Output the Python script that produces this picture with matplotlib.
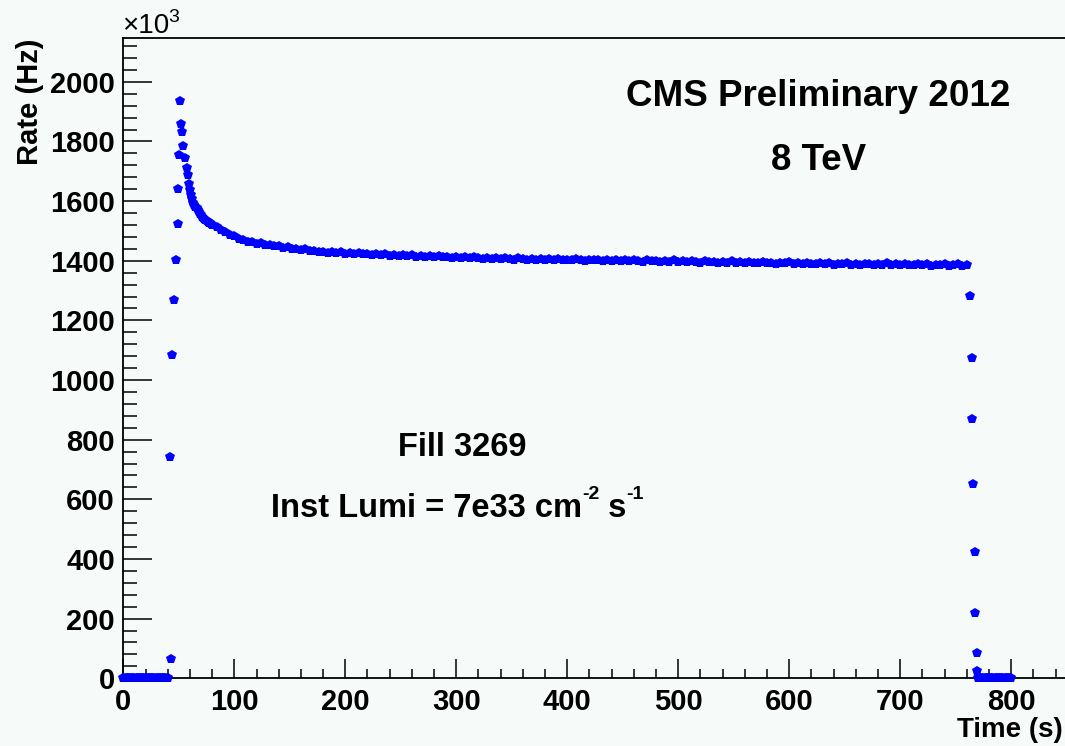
import numpy as np
import matplotlib
matplotlib.use("Agg")
import matplotlib.pyplot as plt
from matplotlib.ticker import MultipleLocator


# rates in units of 1e3 Hz, times in seconds
ZERO_START_T = np.arange(0, 41, 1)
ZERO_END_T = np.arange(770, 801, 1)

RISE_T = [42.2, 42.7, 43.8, 45.9, 47.4, 48.9, 48.9, 50.5, 51.3, 51.6, 52.5, 53.4]
RISE_RATE = [742, 63, 1085, 1267, 1403, 1522, 1641, 1755, 1937, 1859, 1833, 1784]

EARLY_T = np.arange(56, 80, 1)
EARLY_RATE = [1744, 1711, 1688, 1659, 1637, 1622, 1608, 1593, 1587, 1580,
              1576, 1569, 1563, 1558, 1553, 1547, 1542, 1539, 1535, 1532,
              1529, 1527, 1525, 1522]

FLAT_T = np.arange(80, 761, 4)
FLAT_RATE = [
    1521, 1512, 1503, 1497, 1487, 1483, 1474, 1471, 1464, 1463,
    1457, 1458, 1453, 1452, 1448, 1449, 1444, 1446, 1440, 1441,
    1436, 1438, 1432, 1434, 1429, 1431, 1427, 1429, 1425, 1428,
    1424, 1426, 1422, 1425, 1421, 1423, 1419, 1424, 1418, 1421,
    1417, 1420, 1416, 1419, 1415, 1418, 1414, 1417, 1413, 1416,
    1412, 1415, 1411, 1414, 1410, 1413, 1409, 1412, 1408, 1411,
    1409, 1406, 1410, 1407, 1409, 1405, 1408, 1406, 1404, 1408,
    1405, 1403, 1407, 1404, 1406, 1402, 1405, 1403, 1406, 1402,
    1404, 1401, 1405, 1402, 1400, 1404, 1401, 1403, 1399, 1402,
    1400, 1404, 1399, 1401, 1398, 1402, 1399, 1397, 1401, 1398,
    1400, 1396, 1399, 1397, 1401, 1396, 1398, 1395, 1399, 1396,
    1394, 1398, 1395, 1397, 1393, 1396, 1394, 1398, 1393, 1395,
    1392, 1396, 1393, 1391, 1395, 1392, 1394, 1390, 1393, 1391,
    1395, 1390, 1392, 1389, 1393, 1390, 1388, 1392, 1389, 1391,
    1387, 1390, 1388, 1392, 1387, 1389, 1386, 1390, 1388, 1386,
    1389, 1387, 1391, 1386, 1388, 1385, 1389, 1387, 1385, 1388,
    1386, 1389, 1384, 1387, 1385, 1388, 1384, 1386, 1389, 1384,
    1387,
]

FALL_T = [763.0, 764.5, 764.5, 766.0, 767.8, 767.8, 769.0, 769.0]
FALL_RATE = [1282, 1073, 871, 650, 422, 219, 86, 24]

BG = "#f6faf8"
BLUE = "#0000ff"

plt.rcParams["font.family"] = ["Liberation Sans", "DejaVu Sans"]

fig = plt.figure(figsize=(10.65, 7.46), dpi=100, facecolor=BG)
ax = fig.add_axes([0.1158, 0.0908, 1.0 - 0.1158, 0.9487 - 0.0908])
ax.set_facecolor(BG)

t = np.concatenate([ZERO_START_T, RISE_T, EARLY_T, FLAT_T, FALL_T, ZERO_END_T])
r = np.concatenate([np.zeros(len(ZERO_START_T)), RISE_RATE, EARLY_RATE,
                    FLAT_RATE, FALL_RATE, np.zeros(len(ZERO_END_T))])

ax.plot(t, r, linestyle="none", marker="p", markersize=7.2, color=BLUE,
        markeredgewidth=0, clip_on=False, zorder=5)

ax.set_xlim(0, 848.5)
ax.set_ylim(0, 2146)

ax.xaxis.set_major_locator(MultipleLocator(100))
ax.xaxis.set_minor_locator(MultipleLocator(20))
ax.yaxis.set_major_locator(MultipleLocator(200))
ax.yaxis.set_minor_locator(MultipleLocator(40))

ax.tick_params(axis="both", which="both", direction="in", colors="black",
               width=1.1, labelsize=21)
ax.tick_params(axis="y", which="major", length=21, pad=6)
ax.tick_params(axis="y", which="minor", length=10)
ax.tick_params(axis="x", which="major", length=13.5, pad=7)
ax.tick_params(axis="x", which="minor", length=6.5)
for lab in ax.get_xticklabels() + ax.get_yticklabels():
    lab.set_fontweight("bold")

ax.spines["right"].set_visible(False)
for s in ["left", "bottom", "top"]:
    ax.spines[s].set_linewidth(1.3)

fig.text(0.028, 0.9487, "Rate (Hz)", rotation=90, ha="center", va="top",
         fontsize=21, fontweight="bold")
fig.text(0.998, 0.0214, "Time (s)", ha="right", va="center",
         fontsize=20, fontweight="bold")
fig.text(0.1145, 0.9558, "\u00d710", ha="left", va="baseline",
         fontsize=20, fontweight="normal")
fig.text(0.1575, 0.9705, "3", ha="left", va="baseline",
         fontsize=14, fontweight="normal")

fig.text(0.768, 0.870, "CMS Preliminary 2012", ha="center", va="center",
         fontsize=26.5, fontweight="bold")
fig.text(0.769, 0.7855, "8 TeV", ha="center", va="center",
         fontsize=26.5, fontweight="bold")
fig.text(0.4338, 0.3995, "Fill 3269", ha="center", va="center",
         fontsize=23.5, fontweight="bold")

# luminosity line: main text plus small superscripts, laid out left to right
lumi_y = 0.319
parts = [("Inst Lumi = 7e33 cm", 23.5, 0.0), ("-2", 14, 0.018),
         (" s", 23.5, 0.0), ("-1", 14, 0.018)]
x0 = 0.2545
renderer = fig.canvas.get_renderer()
for txt, size, dy in parts:
    obj = fig.text(x0, lumi_y + dy, txt, ha="left", va="center",
                   fontsize=size, fontweight="bold")
    bb = obj.get_window_extent(renderer=renderer)
    x0 += bb.width / fig.bbox.width

fig.savefig("out.png", dpi=100, facecolor=BG)
